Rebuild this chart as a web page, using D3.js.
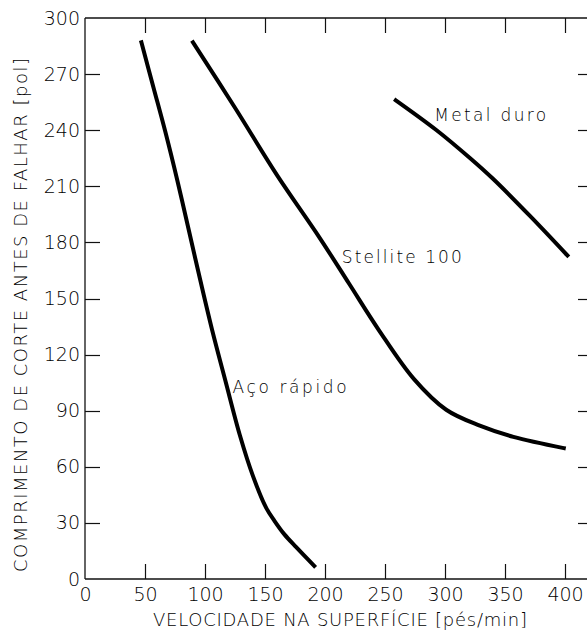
<!DOCTYPE html>
<html>
<head>
<meta charset="utf-8">
<script src="https://cdn.jsdelivr.net/npm/d3@7"></script>
<style>
  html, body { margin: 0; padding: 0; background: #fff; }
  svg { display: block; }
  text { font-family: "DejaVu Sans", sans-serif; font-weight: 200; fill: #000; }
</style>
</head>
<body>
<svg id="chart" width="587" height="633"></svg>
<script>
const xTicks = [0, 50, 100, 150, 200, 250, 300, 350, 400];
const yTicks = [0, 30, 60, 90, 120, 150, 180, 210, 240, 270, 300];

const acoRapido = [
  [47, 287], [57, 263], [67, 239], [77, 213], [86, 188], [96, 160],
  [106, 133], [117, 106], [129, 77], [140, 55], [151, 38], [158, 31],
  [166, 24], [176, 17], [191, 7]
];
const stellite100 = [
  [90, 287], [125, 252], [160, 216], [195, 183], [220, 158], [245, 133],
  [274, 107], [301, 90.5], [329, 82], [357, 76], [399, 70]
];
const metalDuro = [
  [259, 256], [293, 240], [321, 225], [340, 214], [371, 194], [402, 173]
];

const seriesLabels = [
  { text: "Aço rápido", x: 123, y: 99.4, len: 114 },
  { text: "Stellite 100", x: 214, y: 168.8, len: 120 },
  { text: "Metal duro", x: 291, y: 245, len: 112 }
];

const svg = d3.select("#chart");
const mLeft = 85, mRight = 593, mTop = 18, mBottom = 579;
const tickLen = 15;

const x = d3.scaleLinear().domain([0, 400]).range([mLeft, 565]);
const y = d3.scaleLinear().domain([0, 300]).range([mBottom, mTop]);

const axisColor = "#111";

const gB = svg.append("g").attr("transform", `translate(0,${mBottom})`)
  .call(d3.axisBottom(x).tickValues(xTicks).tickSize(0).tickPadding(9));
const gL = svg.append("g").attr("transform", `translate(${mLeft},0)`)
  .call(d3.axisLeft(y).tickValues(yTicks).tickSize(0).tickPadding(5));
[gB, gL].forEach(g => {
  g.select("path.domain").remove();
  g.selectAll(".tick line").remove();
  g.selectAll(".tick text").style("font-family", "'DejaVu Sans', sans-serif")
    .style("font-weight", 200).attr("font-size", 19).attr("fill", "#000");
});

const frame = svg.append("g").attr("stroke", axisColor).attr("stroke-width", 1.3).attr("fill", "none");
frame.append("line").attr("x1", mLeft).attr("x2", mRight).attr("y1", mTop).attr("y2", mTop);
frame.append("line").attr("x1", mLeft).attr("x2", mRight).attr("y1", mBottom).attr("y2", mBottom);
frame.append("line").attr("x1", mLeft).attr("x2", mLeft).attr("y1", mTop).attr("y2", mBottom);
frame.append("line").attr("x1", mRight).attr("x2", mRight).attr("y1", mTop).attr("y2", mBottom);

const ticks = svg.append("g").attr("stroke", axisColor).attr("stroke-width", 1.2);
ticks.selectAll("line.xb").data(xTicks.slice(1)).join("line").attr("class", "xb")
  .attr("x1", d => Math.round(x(d)) + 0.5).attr("x2", d => Math.round(x(d)) + 0.5)
  .attr("y1", mBottom).attr("y2", mBottom - tickLen);
ticks.selectAll("line.xt").data(xTicks.slice(1)).join("line").attr("class", "xt")
  .attr("x1", d => Math.round(x(d)) + 0.5).attr("x2", d => Math.round(x(d)) + 0.5)
  .attr("y1", mTop).attr("y2", mTop + tickLen);
ticks.selectAll("line.yl").data(yTicks.slice(1, -1)).join("line").attr("class", "yl")
  .attr("x1", mLeft).attr("x2", mLeft + tickLen)
  .attr("y1", d => Math.round(y(d)) + 0.5).attr("y2", d => Math.round(y(d)) + 0.5);
ticks.selectAll("line.yr").data(yTicks.slice(1, -1)).join("line").attr("class", "yr")
  .attr("x1", mRight).attr("x2", mRight - tickLen)
  .attr("y1", d => Math.round(y(d)) + 0.5).attr("y2", d => Math.round(y(d)) + 0.5);

const line = d3.line().x(d => x(d[0])).y(d => y(d[1])).curve(d3.curveCatmullRom.alpha(0.5));
[acoRapido, stellite100, metalDuro].forEach(data => {
  svg.append("path").datum(data)
    .attr("d", line)
    .attr("fill", "none")
    .attr("stroke", "#000")
    .attr("stroke-width", 4)
    .attr("stroke-linecap", "square")
    .attr("stroke-linejoin", "round");
});

seriesLabels.forEach(l => {
  svg.append("text").attr("x", x(l.x)).attr("y", y(l.y))
    .attr("font-size", 17)
    .attr("textLength", l.len).attr("lengthAdjust", "spacing")
    .text(l.text);
});

svg.append("text").attr("x", 153).attr("y", 626)
  .attr("font-size", 18)
  .attr("textLength", 374).attr("lengthAdjust", "spacing")
  .text("VELOCIDADE NA SUPERFÍCIE [pés/min]");

svg.append("text")
  .attr("transform", `translate(27,572) rotate(-90)`)
  .attr("font-size", 18)
  .attr("textLength", 514).attr("lengthAdjust", "spacing")
  .text("COMPRIMENTO DE CORTE ANTES DE FALHAR [pol]");
</script>
</body>
</html>
